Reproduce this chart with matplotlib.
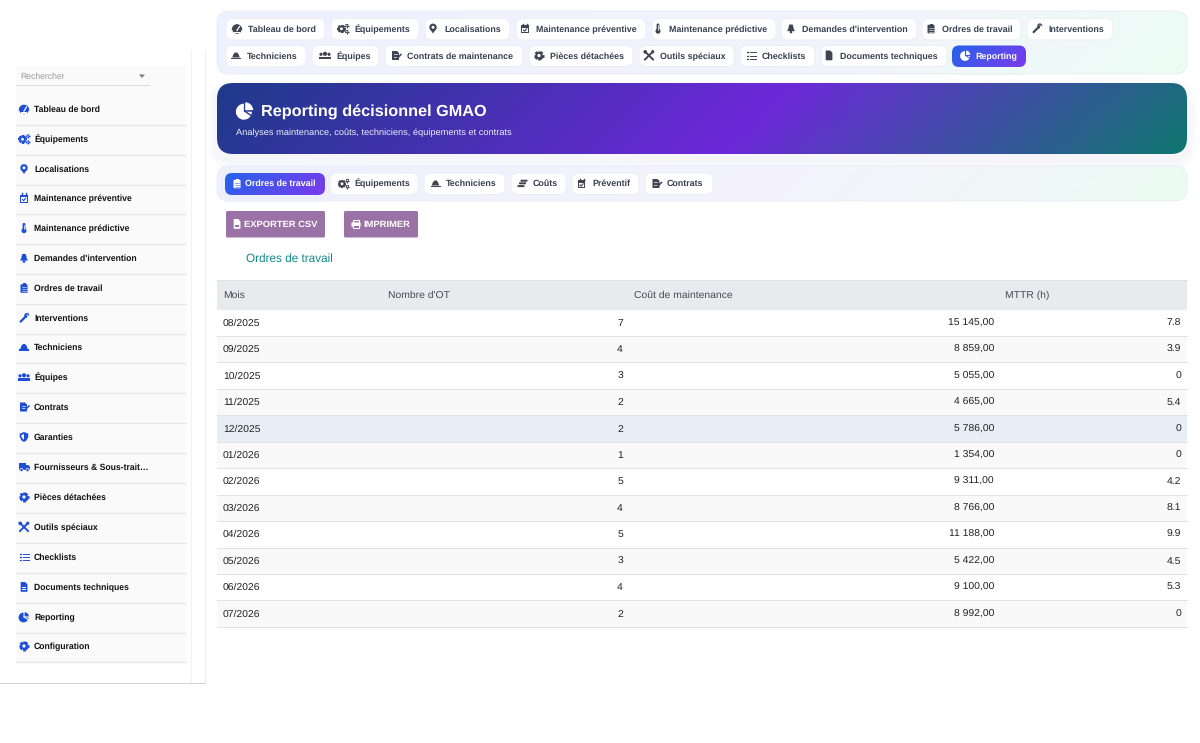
import numpy as np
import matplotlib
matplotlib.use("Agg")
import matplotlib.pyplot as plt
from matplotlib.patches import FancyBboxPatch, Rectangle, Circle, Wedge, Polygon
from matplotlib.colors import to_rgb

months = ["08/2025","09/2025","10/2025","11/2025","12/2025","01/2026","02/2026","03/2026","04/2026","05/2026","06/2026","07/2026"]
ot_counts = [7,4,3,2,2,1,5,4,5,3,4,2]
costs = [15145,8859,5055,4665,5786,1354,9311,8766,11188,5422,9100,8992]
mttr = [7.8,3.9,0,5.4,0,0,4.2,8.1,9.9,4.5,5.3,0]
table_headers = ["Mois","Nombre d'OT","Coût de maintenance","MTTR (h)"]

side_labels = ["Tableau de bord","Équipements","Localisations","Maintenance préventive","Maintenance prédictive",
               "Demandes d'intervention","Ordres de travail","Interventions","Techniciens","Équipes","Contrats",
               "Garanties","Fournisseurs & Sous-trait…","Pièces détachées","Outils spéciaux","Checklists",
               "Documents techniques","Reporting","Configuration"]
side_icons = ["gauge","gears","pin","cal","thermo","bell","clip","wrench","hat","users","contract","shield",
              "truck","gear","tools","list","doc","pie","gear"]
side_y = [109,139,169,198,228,258,288,318,347,377,407,437,467,497,527,557,587,617,646]

nav1 = [("Tableau de bord","gauge",226,325,248),("Équipements","gears",331,419,354),("Localisations","pin",425,510,444),
        ("Maintenance préventive","cal",516,646,536),("Maintenance prédictive","thermo",652,776,669),
        ("Demandes d'intervention","bell",781,917,802),("Ordres de travail","clip",922,1021,942),("Interventions","wrench",1027,1113,1048)]
nav2 = [("Techniciens","hat",226,306,247),("Équipes","users",312,379,336),("Contrats de maintenance","contract",385,523,407),
        ("Pièces détachées","gear",529,633,550),("Outils spéciaux","tools",639,734,660),("Checklists","list",740,815,762),
        ("Documents techniques","doc",821,947,840)]
subtabs = [("Équipements","gears",330,418,354),("Techniciens","hat",424,505,446),("Coûts","coins",511,566,533),
           ("Préventif","cal",572,639,592),("Contrats","contract",645,713,667)]

plt.rcParams["font.family"] = ["Liberation Sans", "DejaVu Sans"]
plt.rcParams["text.hinting"] = "no_hinting"
fig = plt.figure(figsize=(12, 7.43), dpi=100, facecolor="white")
ax = fig.add_axes([0, 0, 1, 1])
ax.set_xlim(0, 1200); ax.set_ylim(743, 0); ax.axis("off"); ax.set_autoscale_on(False)
PX = 0.72
L1 = 0.72

def rbox(x0, y0, x1, y1, r, fc, ec="none", lw=0, z=2, alpha=None):
    p = FancyBboxPatch((x0, y0), x1-x0, y1-y0, boxstyle=f"round,pad=0,rounding_size={r}",
                       fc=fc, ec=ec, lw=lw, zorder=z, alpha=alpha)
    ax.add_patch(p); return p

def shadow(x0, y0, x1, y1, r, color, spread, dy, a, z=1.5):
    for s in range(spread, 0, -2):
        rbox(x0-s, y0-s+dy, x1+s, y1+s+dy, r+s, color, z=z, alpha=a)

def grad(x0, y0, x1, y1, r, stops, z=2, edge=None):
    xs = np.linspace(0, 1, 300); ys = np.linspace(0, 1, 40)
    w, h = x1-x0, y1-y0
    X, Y = np.meshgrid(xs*w, ys*h)
    t = (X+Y)/(w+h)
    pos = [s[0] for s in stops]
    rgb = np.array([to_rgb(s[1]) for s in stops])
    img = np.dstack([np.interp(t, pos, rgb[:, i]) for i in range(3)])
    im = ax.imshow(img, extent=(x0, x1, y1, y0), aspect="auto", zorder=z, interpolation="bilinear")
    clip = rbox(x0, y0, x1, y1, r, "none", ec=edge or "none", lw=0.6 if edge else 0, z=z+0.01)
    im.set_clip_path(clip)

def txt(x, y, s, px, color="black", weight="normal", ha="left", z=5):
    ax.text(x, round(y+0.34*px), s, fontsize=px*PX, color=color, fontweight=weight, ha=ha, va="baseline", zorder=z)

def gearshape(x, y, r, c, hole, z):
    ax.add_patch(Circle((x, y), r*0.72, fc=c, ec="none", zorder=z))
    for a in np.deg2rad(np.arange(0, 180, 45)):
        dx, dy = r*np.cos(a), r*np.sin(a)
        ax.plot([x-dx, x+dx], [y-dy, y+dy], color=c, lw=r*0.42, zorder=z, solid_capstyle="butt")
    ax.add_patch(Circle((x, y), r*0.34, fc=hole, ec="none", zorder=z+.1))

def icon(kind, x, y, c, hole="white"):
    z = 5
    add = ax.add_patch
    if kind == "gauge":
        add(Wedge((x, y+1.5), 5.3, 180, 360, fc=c, ec="none", zorder=z)); add(Circle((x, y+0.5), 4.8, fc=c, ec="none", zorder=z))
        ax.plot([x, x+2.5], [y+2, y-2], color=hole, lw=0.9, zorder=z+.1)
        add(Rectangle((x-3, y+3.4), 6, 1.5, fc=hole, ec="none", zorder=z+.1))
    elif kind == "gears":
        gearshape(x-1.5, y+0.3, 4.2, c, hole, z)
        gearshape(x+3.9, y-2.9, 1.9, c, hole, z)
        gearshape(x+3.9, y+3.2, 1.9, c, hole, z)
    elif kind == "gear":
        gearshape(x, y, 4.8, c, hole, z)
    elif kind == "pin":
        add(Circle((x, y-1.2), 3.7, fc=c, ec="none", zorder=z))
        add(Polygon([(x-3.3, y), (x+3.3, y), (x, y+5)], fc=c, ec="none", zorder=z))
        add(Circle((x, y-1.2), 1.5, fc=hole, ec="none", zorder=z+.1))
    elif kind == "cal":
        add(Rectangle((x-3.7, y-3.2), 7.4, 8, fc=c, ec="none", zorder=z))
        ax.plot([x-2, x-2], [y-4.8, y-2.5], color=c, lw=1, zorder=z); ax.plot([x+2, x+2], [y-4.8, y-2.5], color=c, lw=1, zorder=z)
        add(Rectangle((x-2.7, y-0.7), 5.4, 4.5, fc=hole, ec="none", zorder=z+.1))
        ax.plot([x-1.5, x-.4, x+1.6], [y+1.5, y+2.7, y+.3], color=c, lw=0.8, zorder=z+.2)
    elif kind == "thermo":
        rbox(x-1.4, y-5, x+1.4, y+3, 1.3, c, z=z); add(Circle((x, y+2.7), 2.5, fc=c, ec="none", zorder=z))
        ax.plot([x, x], [y-3.5, y+1], color=hole, lw=0.5, zorder=z+.1)
    elif kind == "bell":
        add(Polygon([(x-1.7, y-4), (x+1.7, y-4), (x+3, y+1), (x+4, y+2.6), (x-4, y+2.6), (x-3, y+1)], fc=c, ec="none", zorder=z))
        add(Circle((x, y+3.6), 1.3, fc=c, ec="none", zorder=z))
    elif kind == "clip":
        rbox(x-3.5, y-3.7, x+3.5, y+4.8, 0.8, c, z=z); add(Rectangle((x-1.5, y-5), 3, 2, fc=c, ec="none", zorder=z))
        for d in (-1, 1, 3):
            ax.plot([x-2, x+2], [y+d, y+d], color=hole, lw=0.4, zorder=z+.1)
    elif kind == "wrench":
        ax.plot([x-3.4, x+2.4], [y+3.6, y-2.2], color=c, lw=1.6, zorder=z, solid_capstyle="round")
        add(Wedge((x+2.8, y-2.6), 2.5, 90, 360, width=1.4, fc=c, ec="none", zorder=z))
    elif kind == "hat":
        add(Polygon([(x-3.8, y+2), (x-2.6, y-1.2), (x-1, y-3), (x+1, y-3), (x+2.6, y-1.2), (x+3.8, y+2)], fc=c, ec="none", zorder=z))
        add(Rectangle((x-5, y+2), 10, 1.6, fc=c, ec="none", zorder=z))
    elif kind == "users":
        for dx, s, dy in ((-4, 1.6, -1.2), (4, 1.6, -1.2), (0, 2.1, -1.7)):
            add(Circle((x+dx, y+dy), s, fc=c, ec="none", zorder=z))
        for dx, w_ in ((-4, 2), (4, 2), (0, 2.8)):
            add(Rectangle((x+dx-w_, y+1), 2*w_, 2.6, fc=c, ec="none", zorder=z))
    elif kind == "contract":
        add(Polygon([(x-4, y-4.5), (x+1, y-4.5), (x+3, y-2.5), (x+3, y+4.5), (x-4, y+4.5)], fc=c, ec="none", zorder=z))
        for d in (-1.5, 1):
            ax.plot([x-2.5, x+0.5], [y+d, y+d], color=hole, lw=0.5, zorder=z+.1)
        ax.plot([x+1, x+5], [y+3, y-1], color=c, lw=1.1, zorder=z+.2)
    elif kind == "shield":
        add(Polygon([(x, y-5), (x+4.3, y-3.3), (x+4.3, y), (x+2.5, y+3.4), (x, y+5), (x-2.5, y+3.4), (x-4.3, y), (x-4.3, y-3.3)], fc=c, ec="none", zorder=z))
        add(Polygon([(x, y-3), (x-2.6, y-2), (x-2.6, y), (x, y+3)], fc=hole, ec="none", zorder=z+.1))
    elif kind == "truck":
        add(Rectangle((x-5, y-4), 6.8, 6.5, fc=c, ec="none", zorder=z))
        add(Polygon([(x+2, y-2), (x+4.5, y-2), (x+6, y), (x+6, y+2.5), (x+2, y+2.5)], fc=c, ec="none", zorder=z))
        for dx in (-2.5, 3.5):
            add(Circle((x+dx, y+3), 1.6, fc=c, ec=hole, lw=0.5, zorder=z+.1))
    elif kind == "tools":
        ax.plot([x-4, x+4], [y-4, y+4], color=c, lw=1.4, zorder=z); ax.plot([x-4, x+4], [y+4, y-4], color=c, lw=1.4, zorder=z)
        add(Circle((x-3.8, y-3.6), 1.8, fc=c, ec="none", zorder=z)); add(Circle((x+3.7, y-3.7), 1.6, fc=c, ec="none", zorder=z))
    elif kind == "list":
        for d in (-3.2, 0, 3.2):
            ax.plot([x-4.2, x-2.8], [y+d, y+d], color=c, lw=0.9, zorder=z); ax.plot([x-1.3, x+4.5], [y+d, y+d], color=c, lw=0.7, zorder=z)
    elif kind == "doc":
        add(Polygon([(x-3.3, y-5), (x+1.2, y-5), (x+3.4, y-2.7), (x+3.4, y+4.8), (x-3.3, y+4.8)], fc=c, ec="none", zorder=z))
        add(Rectangle((x-1.7, y), 3.4, 0.7, fc=hole, ec="none", zorder=z+.1)); add(Rectangle((x-1.7, y+2), 3.4, 0.7, fc=hole, ec="none", zorder=z+.1))
    elif kind == "coins":
        for d, o in ((-2.8, 1.5), (-0.2, 0), (2.6, -1.5)):
            rbox(x-3.5+o, y+d-1, x+3.5+o, y+d+1, 0.5, c, z=z)
    elif kind == "pie":
        add(Wedge((x-0.5, y+0.5), 4.9, 0, 270, fc=c, ec="none", zorder=z))
        add(Wedge((x+0.6, y-0.6), 4.2, 270, 360, fc=c, ec="none", zorder=z))
        ax.plot([x, x+5], [y, y+3.2], color=hole, lw=0.7, zorder=z+.1)
    elif kind == "file":
        add(Polygon([(x-3.3, y-5), (x+1.2, y-5), (x+3.4, y-2.7), (x+3.4, y+4.8), (x-3.3, y+4.8)], fc=c, ec="none", zorder=z))
        add(Rectangle((x-2.4, y+0.8), 4.8, 2.2, fc=hole, ec="none", zorder=z+.1))
    elif kind == "printer":
        add(Rectangle((x-2.8, y-4.4), 5.6, 3.8, fc="none", ec=c, lw=0.8, zorder=z))
        rbox(x-4.6, y-1.6, x+4.6, y+2.8, 1, c, z=z)
        add(Rectangle((x-2.8, y+1.0), 5.6, 3.3, fc=hole, ec=c, lw=0.7, zorder=z+.1))

# sidebar
ax.plot([190.5, 190.5], [50, 683], color="#f3f3f3", lw=L1*1.4, zorder=1)
ax.plot([204.5, 204.5], [50, 683], color="#ececec", lw=L1, zorder=1)
ax.plot([0, 204.5], [683, 683], color="#d4d4d4", lw=L1, zorder=1)
ax.add_patch(Rectangle((16, 66), 170, 596, fc="#fafafa", ec="none", zorder=1))
ax.plot([16, 149], [85, 85], color="#dedede", lw=L1, zorder=2)
txt(20, 76, "Rechercher", 8.7, color="#9a9a9a")
ax.add_patch(Polygon([(139, 74.5), (145, 74.5), (142, 78)], fc="#7a7a7a", ec="none", zorder=3))
for i, (lab, ic, yy) in enumerate(zip(side_labels, side_icons, side_y)):
    icon(ic, 24, yy, "#1d4ed8", hole="#fafafa")
    txt(34, yy, lab, 8.7, weight="bold", color="#111111")
    ax.plot([16, 186], [yy+15.5, yy+15.5], color="#e6e6e6", lw=L1*1.2, zorder=2)

# top nav panel
NAVC = "#3f4652"
grad(217, 11, 1187, 74, 12, [(0, "#eef2ff"), (0.6, "#f3f3fd"), (1, "#ecfdf5")], edge="#e8ecf4")
for row, (y0, y1, ym) in ((nav1, (18.5, 40, 28.5)), (nav2, (45.5, 66.5, 55.5))):
    for lab, ic, x0, x1, tx in row:
        rbox(x0, y0, x1, y1, 7, "white", ec="#eceef4", lw=0.7, z=3)
        icon(ic, tx-11, ym, NAVC)
        txt(tx, ym, lab, 8.9, color="#374151", weight="bold")
shadow(952, 45.5, 1026, 67, 7, "#6d8cf5", 6, 2, 0.04)
grad(952, 45.5, 1026, 67, 7, [(0, "#2563eb"), (1, "#7c3aed")], z=3)
icon("pie", 965.5, 55.5, "white", hole="#4a50ea")
txt(975, 55.5, "Reporting", 8.9, color="white", weight="bold")

# header banner
shadow(217, 83, 1187, 154, 16, "#8a5fc0", 10, 6, 0.012)
grad(217, 83, 1187, 154, 16, [(0, "#1e3a8a"), (0.55, "#6d28d9"), (1, "#0f766e")])
pcx, pcy = 244.5, 111
ax.add_patch(Wedge((pcx-0.6, pcy+0.7), 8, 0, 270, fc="white", ec="none", zorder=5))
ax.add_patch(Wedge((pcx+0.7, pcy-0.7), 8, 270, 358, fc="white", ec="none", zorder=5))
ax.plot([pcx, pcx+8], [pcy, pcy+5.5], color="#2b3590", lw=1, zorder=6)
txt(261, 111, "Reporting décisionnel GMAO", 16.3, color="white", weight="bold")
txt(236, 132, "Analyses maintenance, coûts, techniciens, équipements et contrats", 9.25, color="#eef0fa")

# sub tab panel
grad(217, 166, 1187, 201, 12, [(0, "#eef0fd"), (0.6, "#f5f4fd"), (1, "#ebfbf3")], edge="#e8ecf4")
shadow(225, 173, 325, 195, 7, "#6d8cf5", 6, 2, 0.04)
grad(225, 173, 325, 195, 7, [(0, "#2563eb"), (1, "#7c3aed")], z=3)
icon("clip", 237, 183.5, "white", hole="#3f5fee")
txt(245, 183, "Ordres de travail", 8.9, color="white", weight="bold")
for lab, ic, x0, x1, tx in subtabs:
    rbox(x0, 173, x1, 194.5, 7, "white", ec="#eceef4", lw=0.7, z=3)
    icon(ic, tx-10.5, 183.5, NAVC)
    txt(tx, 183, lab, 8.9, color="#374151", weight="bold")

# buttons
BTN = "#9a72a6"
rbox(226, 211, 325, 237.5, 1.5, BTN, z=3)
icon("file", 237, 224, "white", hole=BTN)
txt(244, 224, "EXPORTER CSV", 9.4, color="white", weight="bold")
rbox(344, 211, 418, 237.5, 1.5, BTN, z=3)
icon("printer", 356, 224, "white", hole=BTN)
txt(363.5, 224, "IMPRIMER", 9.4, color="white", weight="bold")

txt(246.5, 258, "Ordres de travail", 11.8, color="#0f8a8a")

# table
TX0, TX1 = 217, 1187
ROW_Y0, ROW_H = 309.5, 26.45
ax.add_patch(Rectangle((TX0, 279.5), TX1-TX0, ROW_Y0-279.5, fc="#e9eaee", ec="none", zorder=2))
ax.plot([TX0, TX1], [279.5, 279.5], color="#e0e1e5", lw=L1, zorder=3)
for x, h in zip([223, 387.5, 634.5, 1005], table_headers):
    txt(x, 294.5, h, 10.4, color="#454b55")
for i, (m, n, c, t) in enumerate(zip(months, ot_counts, costs, mttr)):
    y0 = ROW_Y0 + i*ROW_H
    y1 = y0 + ROW_H
    fc = "#e7eef6" if m == "12/2025" else ("#ffffff" if i % 2 == 0 else "#f9f9f9")
    ax.add_patch(Rectangle((TX0, y0), TX1-TX0, ROW_H, fc=fc, ec="none", zorder=2))
    ax.plot([TX0, TX1], [y1, y1], color="#e2e2e2", lw=L1, zorder=3)
    ym = (y0+y1)/2 - 0.5
    txt(223, ym, m, 10.4, color="#222222")
    txt(623, ym, str(n), 10.4, color="#222222", ha="right")
    txt(994, ym, f"{c:,.2f}".replace(",", " ").replace(".", ","), 10.4, color="#222222", ha="right")
    txt(1181, ym, f"{t:g}", 10.4, color="#222222", ha="right")

fig.savefig("out.png", dpi=100, facecolor="white")
